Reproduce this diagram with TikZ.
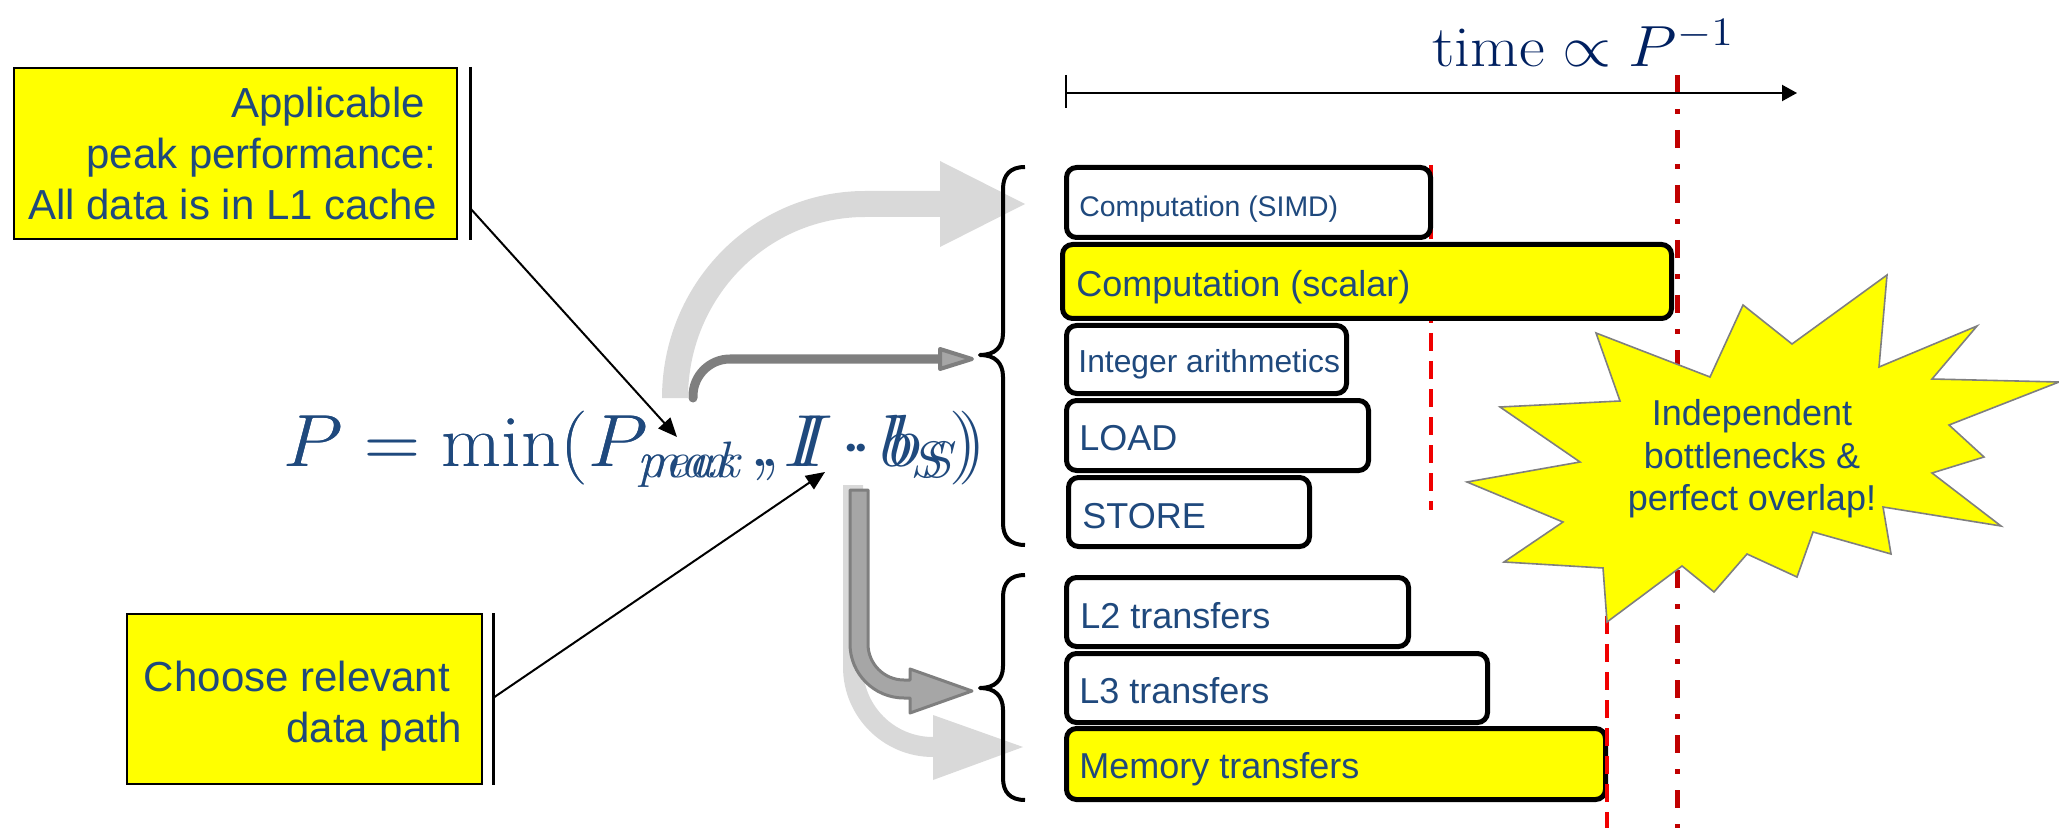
\documentclass[tikz,border=0pt]{standalone}
\usepackage{graphicx}
\usepackage{fontspec}
\newfontfamily\arialf{Liberation Sans}
\usetikzlibrary{arrows.meta}
\definecolor{txtblue}{RGB}{31,73,125}
\definecolor{navy}{RGB}{0,32,96}
\definecolor{ltgray}{RGB}{217,217,217}
\definecolor{dkgray}{RGB}{127,127,127}
\definecolor{midgray}{RGB}{166,166,166}
\definecolor{brightred}{RGB}{240,0,0}
\definecolor{darkred}{RGB}{192,0,0}
\definecolor{hiyellow}{RGB}{255,255,0}
\tikzset{
  barbox/.style={draw=black, line width=2.5pt, rounded corners=5pt, anchor=north west, inner sep=0pt, outer sep=0pt, fill=white},
  barlbl/.style={anchor=base west, inner sep=0pt, text=txtblue, font=\arialf\fontsize{18}{21}\selectfont},
  notebox/.style={draw=black, line width=1pt, fill=hiyellow, anchor=north west, inner sep=0pt, outer sep=0pt},
  notetxt/.style={inner sep=0pt, text=txtblue, align=right, font=\arialf\fontsize{21}{25.5}\selectfont},
  conn/.style={line width=1pt, -{Triangle[length=9.5pt,width=8pt]}},
  redline/.style={brightred, line width=2pt, dash pattern=on 9pt off 5pt},
  brace/.style={line width=2pt, line join=round},
  formula/.style={anchor=base west, inner sep=0pt, text=txtblue, font=\fontsize{20.74}{25}\selectfont},
}
\begin{document}
\begin{tikzpicture}[x=0.5pt,y=-0.5pt]
\useasboundingbox (0,0) rectangle (2059,828);

% light gray big arrow (top)
\fill[ltgray] (662,398) .. controls (662,283.7) and (752.9,191) .. (865,191) -- (940,191) -- (940,161) -- (1025,204) -- (940,247) -- (940,217) -- (865,217) .. controls (767.2,217) and (688,298) .. (688,398) -- cycle;

% dark small arrow
\draw[dkgray, line width=4.5pt, line cap=round] (693,398) -- (693,396) .. controls (693,375.6) and (709.6,359) .. (730,359) -- (942,359);
\draw[dkgray, fill=midgray, line width=2pt, line join=round] (940,349) -- (972,359) -- (940,369) -- cycle;

% light gray lower arrow
\fill[ltgray] (843,485) -- (843,667) .. controls (843,716.7) and (883.3,757) .. (933,757) -- (933,780) -- (1023,747) -- (933,715) -- (933,737) .. controls (894.3,737) and (863,705.7) .. (863,667) -- (863,485) -- cycle;

% dark gray lower arrow
\draw[dkgray, fill=midgray, line width=1.5pt, line join=round] (850,490) -- (850,644) .. controls (850,673.8) and (874.2,698) .. (904,698) -- (910,698) -- (910,713) -- (972,691) -- (910,669) -- (910,680) -- (904,680) .. controls (884.1,680) and (868,663.9) .. (868,644) -- (868,490) -- cycle;

% braces
\draw[brace] (1025,167) .. controls (1010,167) and (1003,175) .. (1003,189) -- (1003,333) .. controls (1003,347) and (995,355) .. (980,355) .. controls (995,355) and (1003,363) .. (1003,377) -- (1003,523) .. controls (1003,537) and (1010,545) .. (1025,545);
\draw[brace] (1025,575) .. controls (1010,575) and (1003,583) .. (1003,597) -- (1003,666) .. controls (1003,680) and (995,688) .. (980,688) .. controls (995,688) and (1003,696) .. (1003,710) -- (1003,778) .. controls (1003,792) and (1010,800) .. (1025,800);

% red lines behind bars
\draw[redline] (1431,165) -- (1431,510);
\draw[darkred, line width=2.5pt, dash pattern=on 9pt off 8pt on 2.5pt off 8pt] (1677,75) -- (1677,828);

% bars
\node[barbox, minimum width=182pt, minimum height=35pt] (simd) at (1066.5,167.5) {};
\node[barbox, fill=hiyellow, minimum width=304.5pt, minimum height=37pt] (scalar) at (1062.5,244.5) {};
\node[barbox, minimum width=140pt, minimum height=34pt] (integer) at (1066.5,325.5) {};
\node[barbox, minimum width=151pt, minimum height=35pt] (load) at (1066.5,400.5) {};
\node[barbox, minimum width=120.5pt, minimum height=34.5pt] (store) at (1068.5,477.5) {};
\node[barbox, minimum width=171pt, minimum height=34.5pt] (ltwo) at (1066.5,577.5) {};
\node[barbox, minimum width=210.5pt, minimum height=34.5pt] (lthree) at (1066.5,653.5) {};
\node[barbox, fill=hiyellow, minimum width=269.5pt, minimum height=35.5pt] (mem) at (1066.5,728.5) {};

\node[barlbl, font=\arialf\fontsize{14.2}{17}\selectfont] (tsimd) at (1079,217) {Computation (SIMD)};
\node[barlbl] (tscalar) at (1076,297) {Computation (scalar)};
\node[barlbl, font=\arialf\fontsize{15.9}{19}\selectfont] (tinteger) at (1078,372) {Integer arithmetics};
\node[barlbl] (tload) at (1079,450) {LOAD};
\node[barlbl] (tstore) at (1082,528) {STORE};
\node[barlbl] (tltwo) at (1080,628) {L2 transfers};
\node[barlbl] (tlthree) at (1079,703) {L3 transfers};
\node[barlbl] (tmem) at (1079,778) {Memory transfers};

\draw[redline] (1607,560) -- (1607,828);

% star
\draw[fill=hiyellow, draw=dkgray, line width=0.8pt, line join=miter]
 (1596,333) -- (1710,377) -- (1743,305) -- (1792,344) -- (1887,275) -- (1879,367) -- (1977,326) -- (1932,379) -- (2059,382) -- (1949,425) -- (1984,457) -- (1932,473) -- (2001,526) -- (1883,507) -- (1891,554) -- (1813,532) -- (1797,577) -- (1747,554) -- (1714,592) -- (1682,566) -- (1607,622) -- (1603,568) -- (1504,562) -- (1563,522) -- (1467,482) -- (1580,462) -- (1500,407) -- (1620,401) -- cycle;
\node[inner sep=0pt, text=txtblue, align=center, font=\arialf\fontsize{18}{21.3}\selectfont] (startxt) at (1752,459) {Independent\\bottlenecks \&\\perfect overlap!};

% time axis
\coordinate (ax0) at (1066,93);
\coordinate (ax1) at (1797,93);
\draw[line width=1pt, -{Triangle[length=7.5pt,width=8pt]}] (ax0) -- (ax1);
\draw[line width=1pt] (1066,75) -- (1066,108);
\node[anchor=base west, inner sep=0pt, text=navy, font=\fontsize{20.74}{25}\selectfont] (timelbl) at (1432,67) {\scalebox{1.52}[1.4]{$\mathrm{time}\propto P^{-1}$}};

% yellow note boxes
\node[notebox, minimum width=221.5pt, minimum height=85.5pt] (peakbox) at (14,68) {};
\node[notetxt, anchor=base east] (peaktxt) at (437,220) {Applicable\kern0.28em\\peak performance:\\All data is in L1 cache};
\node[notebox, minimum width=177.5pt, minimum height=85pt] (pathbox) at (127,614) {};
\node[notetxt, anchor=base east] (pathtxt) at (462,742) {Choose relevant\kern0.28em\\data path};
\draw[line width=1.5pt] (470,67) -- (470,240);
\draw[line width=1.5pt] (493,613) -- (493,785);

% formula (two overlapping versions)
\node[formula] (formA) at (283,466) {\scalebox{1.87}[1.78]{$P=\min(P_{\mathit{peak}}\mkern2mu,I\cdot b_S)$}};
\node[formula] (formB) at (283,466) {\scalebox{1.87}[1.78]{$P=\min(P_{\mathit{max}\vphantom{k}}\mkern6mu,I\cdot b_S)$}};

% connectors
\coordinate (c1s) at (470,208);
\coordinate (c1e) at (677,437);
\coordinate (c2s) at (493,698);
\coordinate (c2e) at (825,472);
\draw[conn] (c1s) -- (c1e);
\draw[conn] (c2s) -- (c2e);
\end{tikzpicture}
\end{document}
